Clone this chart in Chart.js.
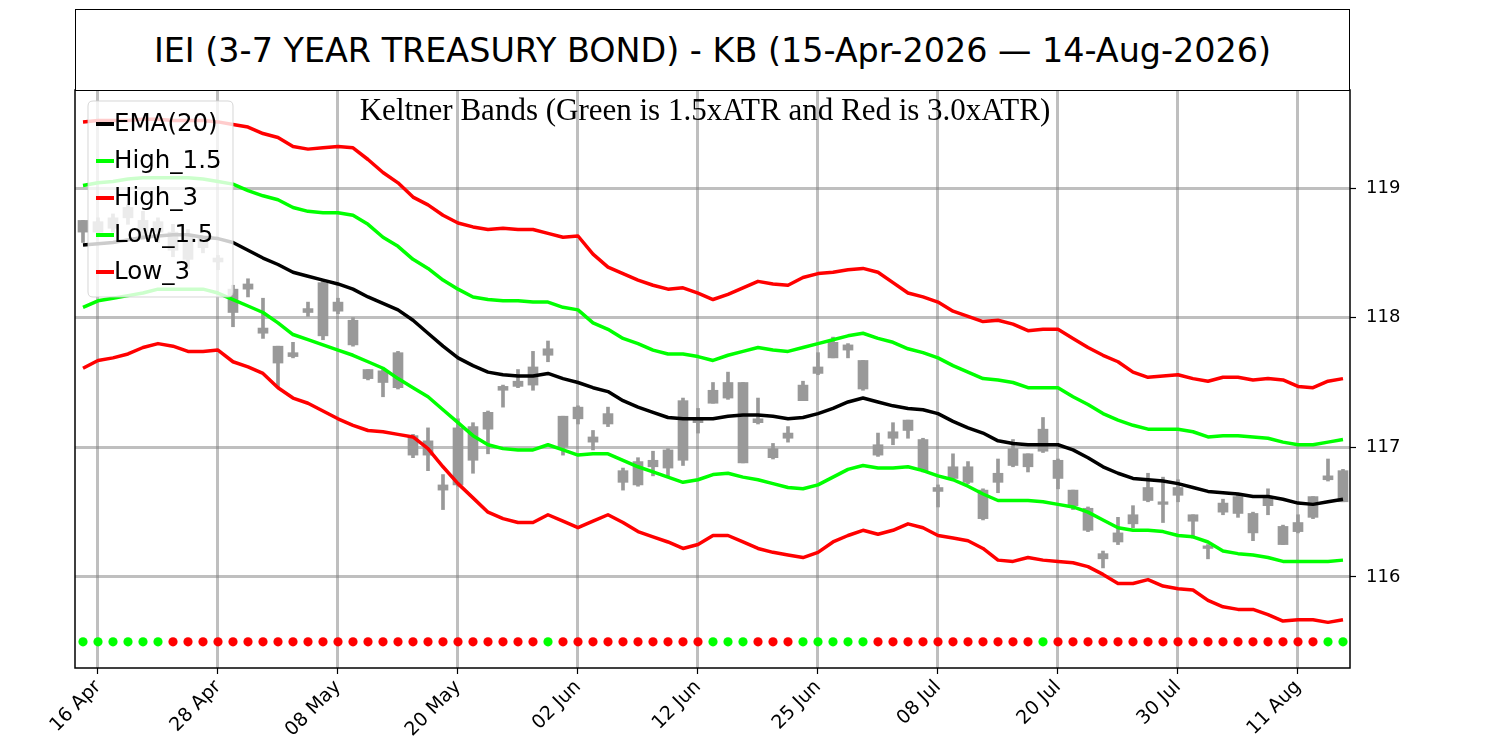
<!DOCTYPE html>
<html>
<head>
<meta charset="utf-8">
<script src="https://cdn.jsdelivr.net/npm/chart.js@4.4.1/dist/chart.umd.min.js"></script>
<style>
  html, body { margin: 0; padding: 0; background: #fff; overflow: hidden; }
  #wrap { position: relative; width: 1500px; height: 750px; }
  #c { position: absolute; left: 0; top: 0; }
  #title { position: absolute; left: 75px; top: 9px; width: 1275px; height: 82px; box-sizing: border-box;
    border: 1.5px solid #000; display: flex; align-items: center; justify-content: center;
    font-family: "DejaVu Sans", sans-serif; font-size: 33.4px; color: #000; background: #fff; }
  #subtitle { position: absolute; left: 105px; width: 1200px; top: 92px; text-align: center;
    font-family: "Liberation Serif", "Times New Roman", serif; font-size: 31px; line-height: 36px; color: #000; }
</style>
</head>
<body>
<div id="wrap">
  <canvas id="c" width="1500" height="750"></canvas>
  <div id="title">IEI (3-7 YEAR TREASURY BOND) - KB (15-Apr-2026 — 14-Aug-2026)</div>
  <div id="subtitle">Keltner Bands (Green is 1.5xATR and Red is 3.0xATR)</div>
</div>
<script>
// ---- categories (trading days) ----
const dates = [
 '2026-04-15','2026-04-16','2026-04-17','2026-04-20','2026-04-21','2026-04-22','2026-04-23','2026-04-24','2026-04-27','2026-04-28','2026-04-29','2026-04-30',
 '2026-05-01','2026-05-04','2026-05-05','2026-05-06','2026-05-07','2026-05-08','2026-05-11','2026-05-12','2026-05-13','2026-05-14','2026-05-15','2026-05-18','2026-05-19','2026-05-20','2026-05-21','2026-05-22','2026-05-26','2026-05-27','2026-05-28','2026-05-29',
 '2026-06-01','2026-06-02','2026-06-03','2026-06-04','2026-06-05','2026-06-08','2026-06-09','2026-06-10','2026-06-11','2026-06-12','2026-06-15','2026-06-16','2026-06-17','2026-06-18','2026-06-22','2026-06-23','2026-06-24','2026-06-25','2026-06-26','2026-06-29','2026-06-30',
 '2026-07-01','2026-07-02','2026-07-06','2026-07-07','2026-07-08','2026-07-09','2026-07-10','2026-07-13','2026-07-14','2026-07-15','2026-07-16','2026-07-17','2026-07-20','2026-07-21','2026-07-22','2026-07-23','2026-07-24','2026-07-27','2026-07-28','2026-07-29','2026-07-30','2026-07-31',
 '2026-08-03','2026-08-04','2026-08-05','2026-08-06','2026-08-07','2026-08-10','2026-08-11','2026-08-12','2026-08-13','2026-08-14'
];

// ---- tick labels ----
const tickDates  = ['2026-04-16','2026-04-28','2026-05-08','2026-05-20','2026-06-02','2026-06-12','2026-06-25','2026-07-08','2026-07-20','2026-07-30','2026-08-11'];
const tickLabels = ['16 Apr','28 Apr','08 May','20 May','02 Jun','12 Jun','25 Jun','08 Jul','20 Jul','30 Jul','11 Aug'];
const yTicks = [116, 117, 118, 119];

// ---- series ----
const ema = [118.56,118.57,118.58,118.60,118.62,118.63,118.64,118.64,118.62,118.61,
118.58,118.52,118.46,118.41,118.35,118.32,118.29,118.26,118.22,118.16,
118.11,118.06,117.98,117.88,117.78,117.69,117.63,117.58,117.56,117.55,
117.55,117.57,117.53,117.50,117.46,117.43,117.36,117.31,117.27,117.23,
117.22,117.22,117.22,117.24,117.25,117.25,117.24,117.22,117.23,117.26,
117.30,117.35,117.38,117.35,117.32,117.30,117.29,117.26,117.20,117.15,
117.11,117.05,117.03,117.02,117.02,117.02,116.98,116.92,116.85,116.80,
116.76,116.75,116.74,116.72,116.69,116.66,116.65,116.64,116.62,116.62,
116.60,116.57,116.56,116.58,116.60];

const high15 = [119.02,119.04,119.05,119.07,119.08,119.08,119.08,119.08,119.07,119.05,
119.03,118.98,118.94,118.91,118.85,118.82,118.81,118.81,118.79,118.72,
118.62,118.55,118.45,118.38,118.29,118.22,118.16,118.14,118.13,118.13,
118.12,118.12,118.08,118.06,117.96,117.91,117.84,117.80,117.75,117.72,
117.72,117.70,117.67,117.71,117.74,117.77,117.75,117.74,117.77,117.80,
117.83,117.86,117.88,117.84,117.81,117.76,117.73,117.69,117.63,117.58,
117.53,117.52,117.50,117.46,117.46,117.46,117.39,117.33,117.26,117.21,
117.17,117.14,117.14,117.14,117.12,117.08,117.09,117.09,117.08,117.07,
117.04,117.02,117.02,117.04,117.06];

const high3 = [119.51,119.52,119.52,119.52,119.53,119.53,119.52,119.52,119.52,119.51,
119.49,119.47,119.42,119.39,119.32,119.30,119.31,119.32,119.31,119.22,
119.12,119.04,118.93,118.87,118.79,118.73,118.70,118.68,118.69,118.68,
118.68,118.65,118.62,118.63,118.49,118.39,118.34,118.29,118.25,118.22,
118.23,118.19,118.14,118.18,118.23,118.28,118.26,118.25,118.31,118.34,
118.35,118.37,118.38,118.35,118.27,118.19,118.16,118.12,118.05,118.01,
117.97,117.98,117.95,117.90,117.91,117.91,117.84,117.77,117.71,117.66,
117.58,117.54,117.55,117.56,117.53,117.51,117.54,117.54,117.52,117.53,
117.52,117.47,117.46,117.51,117.53];

const low15 = [118.08,118.13,118.15,118.17,118.19,118.22,118.22,118.22,118.22,118.19,
118.14,118.09,118.04,117.96,117.87,117.83,117.79,117.75,117.71,117.66,
117.61,117.53,117.46,117.39,117.29,117.19,117.09,117.02,116.99,116.98,
116.98,117.02,116.98,116.94,116.95,116.95,116.90,116.85,116.81,116.77,
116.73,116.75,116.79,116.80,116.77,116.75,116.72,116.69,116.68,116.71,
116.77,116.83,116.86,116.84,116.84,116.85,116.82,116.78,116.75,116.70,
116.64,116.59,116.59,116.59,116.58,116.56,116.54,116.50,116.44,116.38,
116.36,116.36,116.35,116.32,116.31,116.27,116.20,116.18,116.17,116.15,
116.12,116.12,116.12,116.12,116.13];

const low3 = [117.61,117.67,117.69,117.72,117.77,117.80,117.78,117.74,117.74,117.75,
117.66,117.62,117.57,117.46,117.38,117.34,117.28,117.22,117.17,117.13,
117.12,117.10,117.08,116.99,116.85,116.72,116.61,116.50,116.45,116.42,
116.42,116.48,116.43,116.38,116.43,116.48,116.42,116.35,116.31,116.27,
116.22,116.25,116.32,116.32,116.27,116.22,116.19,116.17,116.15,116.19,
116.27,116.32,116.36,116.33,116.36,116.41,116.38,116.32,116.30,116.28,
116.22,116.13,116.12,116.15,116.13,116.12,116.11,116.08,116.02,115.95,
115.95,115.98,115.93,115.91,115.90,115.82,115.77,115.75,115.75,115.71,
115.66,115.67,115.67,115.65,115.67];

// ---- candles (OHLC) ----
const highP = [118.75,118.77,118.80,118.87,118.82,118.77,118.72,118.68,118.63,118.48,
118.25,118.30,118.15,117.78,117.81,118.12,118.29,118.15,118.00,117.60,
117.60,117.74,117.10,117.15,116.79,117.22,117.19,117.28,117.48,117.60,
117.74,117.82,117.24,117.32,117.13,117.31,116.84,116.92,116.97,116.99,
117.38,117.30,117.50,117.58,117.50,117.38,117.03,117.16,117.51,117.73,
117.85,117.80,117.67,117.11,117.19,117.21,117.07,116.71,116.95,116.89,
116.68,116.91,117.06,116.95,117.23,116.91,116.67,116.54,116.20,116.46,
116.55,116.80,116.77,116.75,116.48,116.25,116.60,116.64,116.50,116.68,
116.40,116.48,116.62,116.91,116.83];

const openP = [118.75,118.74,118.77,118.85,118.75,118.74,118.66,118.62,118.62,118.46,
118.22,118.26,117.92,117.78,117.73,118.07,118.27,118.12,117.98,117.60,
117.59,117.73,117.09,117.05,116.71,117.15,117.16,117.27,117.47,117.51,
117.62,117.76,117.24,117.31,117.08,117.26,116.82,116.89,116.90,116.98,
117.36,117.22,117.44,117.50,117.50,117.22,116.99,117.11,117.48,117.62,
117.81,117.79,117.67,117.02,117.12,117.21,117.06,116.69,116.85,116.85,
116.67,116.80,116.99,116.95,117.14,116.90,116.67,116.53,116.18,116.34,
116.48,116.69,116.58,116.69,116.48,116.24,116.57,116.62,116.49,116.62,
116.39,116.42,116.62,116.78,116.82];

const closeP = [118.66,118.66,118.69,118.77,118.63,118.66,118.52,118.45,118.54,118.43,
118.04,118.22,117.88,117.65,117.70,118.04,117.86,118.05,117.79,117.53,
117.50,117.46,116.94,116.94,116.67,116.71,116.90,117.14,117.44,117.47,
117.48,117.71,117.00,117.22,117.04,117.18,116.73,116.71,116.85,116.84,
116.90,117.19,117.34,117.38,116.88,117.19,116.92,117.07,117.36,117.57,
117.69,117.75,117.45,116.94,117.07,117.13,116.82,116.66,116.76,116.73,
116.45,116.73,116.86,116.85,116.97,116.76,116.55,116.36,116.14,116.27,
116.41,116.59,116.56,116.63,116.43,116.22,116.50,116.49,116.34,116.55,
116.25,116.35,116.46,116.75,116.58];

const lowP = [118.58,118.63,118.66,118.72,118.60,118.58,118.47,118.38,118.50,118.37,
117.93,118.16,117.84,117.46,117.69,118.01,117.83,118.03,117.78,117.52,
117.39,117.45,116.92,116.82,116.52,116.70,116.80,116.95,117.31,117.46,
117.44,117.66,116.94,117.18,116.98,117.16,116.67,116.70,116.78,116.78,
116.86,117.11,117.34,117.37,116.88,117.18,116.91,117.04,117.36,117.56,
117.69,117.69,117.44,116.93,117.02,117.07,116.81,116.54,116.75,116.72,
116.44,116.65,116.85,116.81,116.96,116.68,116.52,116.35,116.07,116.25,
116.38,116.58,116.42,116.58,116.30,116.14,116.48,116.46,116.28,116.48,
116.25,116.34,116.45,116.74,116.58];

// ---- signal dots (G = green, R = red) ----
const signalLevel = 115.5;
const signal = ['G','G','G','G','G','G','R','R','R','R','R','R','R','R','R','R','R','R','R','R',
'R','R','R','R','R','R','R','R','R','R','R','G','R','R','R','R','R','R','R','R',
'R','R','G','G','G','R','R','R','G','G','G','G','G','R','R','R','R','R','R','R',
'R','R','R','R','G','R','R','R','R','R','R','R','R','R','R','R','R','R','R','R',
'R','R','R','G','G'];

// ---- build ----
const LIME = '#00ff00', RED = '#ff0000', CANDLE = '#999999';
const idx = dates.map((d, i) => i);
const tickIdx = tickDates.map(d => dates.indexOf(d));
const line = (label, arr, color) => ({
  type: 'line', label, data: arr.map((v, i) => ({ x: idx[i], y: v })),
  borderColor: color, backgroundColor: color, borderWidth: 3.5, pointRadius: 0,
  tension: 0, fill: false, borderJoinStyle: 'round', order: 0, inLegend: true
});

const datasets = [
  line('EMA(20)', ema, '#000000'),
  line('High_1.5', high15, LIME),
  line('High_3', high3, RED),
  line('Low_1.5', low15, LIME),
  line('Low_3', low3, RED),
  { type: 'bar', label: 'wick', data: idx.map(i => ({ x: i, y: [lowP[i], highP[i]] })),
    backgroundColor: CANDLE, barThickness: 3, grouped: false, order: 2, borderWidth: 0 },
  { type: 'bar', label: 'body', data: idx.map(i => ({ x: i, y: [closeP[i], openP[i]] })),
    backgroundColor: CANDLE, barThickness: 10, grouped: false, order: 1, borderWidth: 0 },
  { type: 'line', label: 'signal', data: idx.map(i => ({ x: i, y: signalLevel })), showLine: false,
    pointRadius: 4.6, pointBorderWidth: 0, pointHoverRadius: 4.6,
    pointBackgroundColor: signal.map(s => s === 'G' ? LIME : RED), order: 0 }
];

const framePlugin = {
  id: 'frame',
  afterDraw(chart) {
    const { ctx, chartArea: a } = chart;
    ctx.save();
    ctx.strokeStyle = '#000'; ctx.lineWidth = 1.5;
    ctx.strokeRect(a.left, a.top, a.right - a.left, a.bottom - a.top);
    // legend
    const items = chart.data.datasets.filter(d => d.inLegend);
    const x0 = 88, y0 = 101, w = 145, h = 196, r = 5;
    ctx.beginPath();
    ctx.moveTo(x0 + r, y0); ctx.lineTo(x0 + w - r, y0); ctx.quadraticCurveTo(x0 + w, y0, x0 + w, y0 + r);
    ctx.lineTo(x0 + w, y0 + h - r); ctx.quadraticCurveTo(x0 + w, y0 + h, x0 + w - r, y0 + h);
    ctx.lineTo(x0 + r, y0 + h); ctx.quadraticCurveTo(x0, y0 + h, x0, y0 + h - r);
    ctx.lineTo(x0, y0 + r); ctx.quadraticCurveTo(x0, y0, x0 + r, y0); ctx.closePath();
    ctx.fillStyle = 'rgba(255,255,255,0.8)'; ctx.fill();
    ctx.strokeStyle = 'rgba(204,204,204,0.8)'; ctx.lineWidth = 1; ctx.stroke();
    ctx.font = '24.5px "DejaVu Sans"'; ctx.textBaseline = 'middle'; ctx.textAlign = 'left';
    items.forEach((d, k) => {
      const yy = 124 + k * 37;
      ctx.strokeStyle = d.borderColor; ctx.lineWidth = 4; ctx.lineCap = 'butt';
      ctx.beginPath(); ctx.moveTo(96, yy); ctx.lineTo(114, yy); ctx.stroke();
      ctx.fillStyle = '#000'; ctx.fillText(d.label, 114, yy + 1);
    });
    ctx.restore();
  }
};

const GRID = 'rgba(128,128,128,0.5)';
new Chart(document.getElementById('c'), {
  type: 'line',
  data: { datasets },
  options: {
    responsive: false, animation: false, devicePixelRatio: 1,
    layout: { padding: { left: 75, top: 90, right: 0, bottom: 0 } },
    plugins: { legend: { display: false }, tooltip: { enabled: false }, title: { display: false } },
    scales: {
      x: {
        type: 'linear', min: -0.533, max: 84.467, offset: false,
        grid: { color: GRID, lineWidth: 3, offset: false, tickColor: '#000', tickLength: 6, tickWidth: 1.2 },
        border: { display: false },
        afterBuildTicks: s => { s.ticks = tickIdx.map(v => ({ value: v })); },
        afterFit: s => { s.height = 82; },
        ticks: {
          autoSkip: false, maxRotation: 45, minRotation: 45, color: '#000', padding: 2,
          font: { family: 'DejaVu Sans', size: 19 },
          callback: v => tickLabels[tickIdx.indexOf(v)]
        }
      },
      y: {
        type: 'linear', position: 'right', min: 115.298, max: 119.756, beginAtZero: false,
        grid: { color: GRID, lineWidth: 3, tickColor: '#000', tickLength: 6, tickWidth: 1.2 },
        border: { display: false },
        afterBuildTicks: s => { s.ticks = yTicks.map(v => ({ value: v })); },
        afterFit: s => { s.width = 150; },
        ticks: { color: '#000', padding: 10, font: { family: 'DejaVu Sans', size: 18 }, callback: v => String(v) }
      }
    }
  },
  plugins: [framePlugin]
});
</script>
</body>
</html>
